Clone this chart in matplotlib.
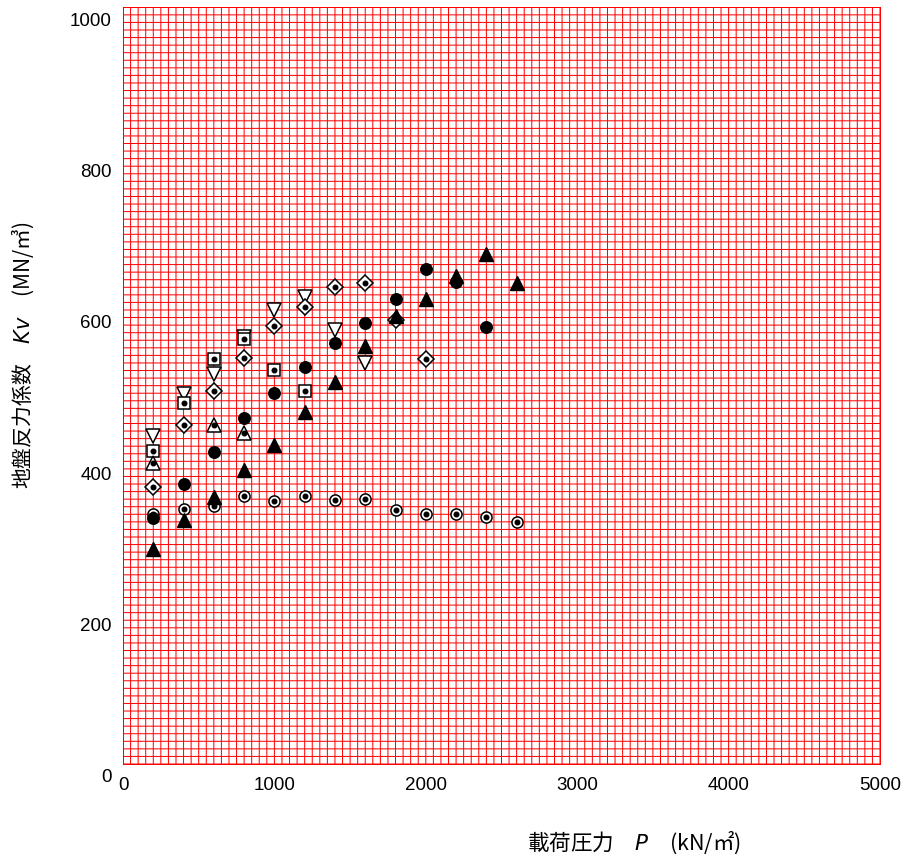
import numpy as np
import matplotlib as mpl
import matplotlib.pyplot as plt
import matplotlib.transforms as mtransforms

mpl.rcParams['font.family'] = ['Liberation Sans', 'DejaVu Sans']
jp_font = ['Noto Sans CJK JP', 'DejaVu Sans']

# 載荷圧力 P (kN/m2) と 地盤反力係数 Kv (MN/m3)
p_full_circle = [200, 400, 600, 800, 1000, 1200, 1400, 1600, 1800, 2000, 2200, 2400]
kv_full_circle = [325, 370, 412, 457, 490, 524, 557, 583, 614, 654, 637, 577]

p_full_tri = [200, 400, 600, 800, 1000, 1200, 1400, 1600, 1800, 2000, 2200, 2400, 2600]
kv_full_tri = [284, 322, 353, 388, 421, 465, 505, 552, 592, 615, 645, 674, 635]

p_dot_circle = [200, 400, 600, 800, 1000, 1200, 1400, 1600, 1800, 2000, 2200, 2400, 2600]
kv_dot_circle = [331, 337, 341, 354, 348, 354, 349, 350, 336, 331, 331, 326, 320]

p_down_tri = [200, 400, 600, 800, 1000, 1200, 1400, 1600]
kv_down_tri = [433, 489, 515, 564, 600, 617, 574, 530]

p_diamond = [200, 400, 600, 800, 1000, 1200, 1400, 1600, 1800, 2000]
kv_diamond = [366, 448, 493, 537, 579, 604, 631, 635, 587, 535]

p_square = [200, 400, 600, 800, 1000, 1200]
kv_square = [414, 477, 535, 562, 521, 493]

p_up_tri = [200, 600, 800]
kv_up_tri = [398, 448, 437]

x_ticks = [0, 1000, 2000, 3000, 4000, 5000]
y_ticks = [0, 200, 400, 600, 800, 1000]

fig = plt.figure(figsize=(9.05, 8.61), dpi=100)
ax = fig.add_axes([123 / 905, 1 - 764 / 861, 757 / 905, 756.7 / 861])
ax.set_xlim(0, 5000)
ax.set_ylim(0, 1000)

# 方眼（赤）
ax.set_xticks(x_ticks)
ax.set_yticks(y_ticks)
ax.set_xticks(np.arange(0, 5001, 50), minor=True)
ax.set_yticks(np.arange(0, 1001, 10), minor=True)
ax.grid(which='both', color='#ff0000', linewidth=0.72, snap=False)
ax.set_axisbelow(True)
ax.tick_params(which='both', length=0, labelsize=13.5, colors='black')
ax.tick_params(axis='x', pad=9)
ax.tick_params(axis='y', pad=8)
for s in ax.spines.values():
    s.set_color('#ff0000')
    s.set_linewidth(0.72)

# 縦軸の数値は少し下にずれている
offset = mtransforms.ScaledTranslation(0, -12 / 100, fig.dpi_scale_trans)
for lab in ax.get_yticklabels():
    lab.set_transform(lab.get_transform() + offset)

open_kw = dict(linestyle='none', markerfacecolor='white', markeredgecolor='black', markeredgewidth=1.1)
dot_kw = dict(linestyle='none', marker='o', markersize=3.3, color='black')

ax.plot(p_dot_circle, kv_dot_circle, marker='o', markersize=8, **open_kw)
ax.plot(p_dot_circle, kv_dot_circle, **dot_kw)
ax.plot(p_down_tri, kv_down_tri, marker='v', markersize=9.5, **open_kw)
ax.plot(p_square, kv_square, marker='s', markersize=8.3, **open_kw)
ax.plot(p_square, kv_square, **dot_kw)
ax.plot(p_up_tri, kv_up_tri, marker='^', markersize=9.5, **open_kw)
ax.plot(p_up_tri, kv_up_tri, **dot_kw)
ax.plot(p_diamond, kv_diamond, marker='D', markersize=8, **open_kw)
ax.plot(p_diamond, kv_diamond, **dot_kw)
ax.plot(p_full_circle, kv_full_circle, 'o', color='black', markersize=8.3)
ax.plot(p_full_tri, kv_full_tri, '^', color='black', markersize=10)

fig.text(634 / 905, 1 - 843 / 861, '載荷圧力　$\\mathit{P}$　(kN/㎡)',
         family=jp_font, fontsize=15.5, ha='center', va='center')
fig.text(23 / 905, 1 - 355 / 861, '地盤反力係数　$\\mathit{Kv}$　(MN/㎥)',
         family=jp_font, fontsize=15, ha='center', va='center', rotation=90)

plt.savefig('out.png', dpi=100)
plt.close()
